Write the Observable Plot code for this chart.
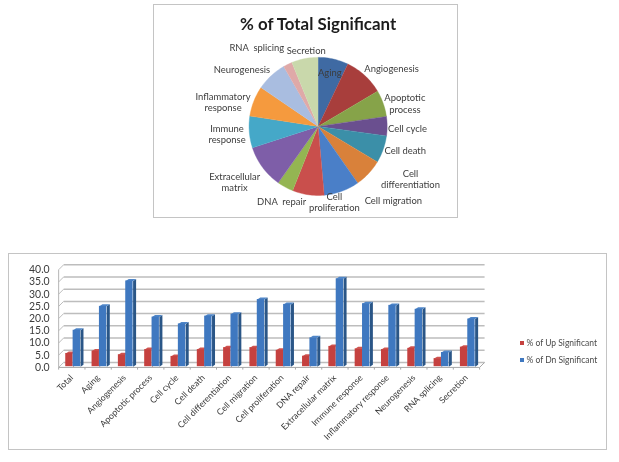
<!DOCTYPE html>
<html><head><meta charset="utf-8">
<script src="https://cdn.jsdelivr.net/npm/d3@7"></script>
<script src="https://cdn.jsdelivr.net/npm/@observablehq/plot@0.6"></script>
<style>
html,body{margin:0;padding:0;background:#fff;width:619px;height:462px;overflow:hidden;font-family:Lato,sans-serif}
#wrap{position:relative;width:619px;height:462px;filter:blur(0.5px)}
.box{position:absolute;box-sizing:border-box;border:1px solid #c4c4c4;background:#fff}
.box svg{position:absolute;left:-1px;top:-1px;overflow:visible;background:transparent}
.leg{position:absolute;font:8.5px Lato,sans-serif;color:#4a4a4a;white-space:nowrap}
.leg i{display:inline-block;width:4.5px;height:4.5px;margin-right:2.5px;vertical-align:1px}
</style></head><body>
<div id="wrap"></div>
<script>
const pieTitle = "% of Total Significant";
const pieNames = ["Aging","Angiogenesis","Apoptotic process","Cell cycle","Cell death","Cell differentiation","Cell migration","Cell proliferation","DNA repair","Extracellular matrix","Immune response","Inflammatory response","Neurogenesis","RNA splicing","Secretion"];
const pieShares = [7.1,9.4,6.2,4.5,6.4,6.7,8.3,7.4,3.8,10.2,7.4,7.1,7.2,2.1,6.2];
const pieColors = ["#3f6aa3","#a83e3c","#86a349","#6a4f8f","#3b8fa8","#d9813a","#4a7fc8","#c94f4c","#94b552","#7e5ea8","#45a8c8","#f59a3e","#a9bde0","#dfa9a8","#c9d8ab"];
const pieLabels = ["Aging","Angiogenesis","Apoptotic\nprocess","Cell cycle","Cell death","Cell\ndifferentiation","Cell migration","Cell\nproliferation","DNA  repair","Extracellular\nmatrix","Immune\nresponse","Inflammatory\nresponse","Neurogenesis","RNA  splicing","Secretion"];
// label placement, px from the pie centre
const labelDX = [11.7,74,87.3,90,87.7,93,75.7,16.3,-36.7,-84,-91.7,-95.7,-76.7,-61.7,-12];
const labelDY = [-54,-58.3,-23,1.7,24,52.7,74.7,76,75,56,7.7,-24.7,-57.3,-79.3,-76.7];

const categories = ["Total","Aging","Angiogenesis","Apoptotic process","Cell cycle","Cell death","Cell differentiation","Cell migration","Cell proliferation","DNA repair","Extracellular matrix","Immune response","Inflammatory response","Neurogenesis","RNA splicing","Secretion"];
const upValues = [5.7,6.7,5.2,7.3,4.5,7.3,8.1,8.1,7.0,4.6,8.6,7.6,7.3,7.8,3.6,8.3];
const dnValues = [15.2,25.0,35.4,20.6,17.8,21.0,21.8,27.8,25.8,12.1,36.3,26.1,25.4,23.8,6.1,19.8];
const yTicks = [0,5,10,15,20,25,30,35,40];
const seriesNames = ["% of Up Significant","% of Dn Significant"];

const wrap = document.getElementById("wrap");
function box(l,t,w,h){const d=document.createElement("div");d.className="box";d.style.cssText=`left:${l}px;top:${t}px;width:${w}px;height:${h}px`;wrap.appendChild(d);return d;}

/* ---------- pie ---------- */
const PW=305,PH=214,CX=165.7,CY=122.7,R=69.5;
let acc=0;const total=d3.sum(pieShares);
const pieRows=[];
pieShares.forEach((s,i)=>{
  const a0=acc/total*2*Math.PI;acc+=s;const a1=acc/total*2*Math.PI;
  pieRows.push({i,px:CX,py:CY});
  const n=Math.max(2,Math.ceil((a1-a0)/0.03));
  for(let k=0;k<=n;k++){const a=a0+(a1-a0)*k/n;pieRows.push({i,px:CX+R*Math.sin(a),py:CY-R*Math.cos(a)});}
});
const pieBox=box(152.5,4,PW,PH);
pieBox.appendChild(Plot.plot({
  width:PW,height:PH,margin:0,
  x:{domain:[0,PW],range:[0,PW],axis:null},
  y:{domain:[0,PH],range:[0,PH],axis:null},
  marks:[
    Plot.line(pieRows,{x:"px",y:"py",z:"i",fill:d=>pieColors[d.i],stroke:d=>pieColors[d.i],strokeWidth:0.4,curve:"linear"}),
    Plot.text([pieTitle],{x:()=>CX,y:()=>20,text:d=>d,fontFamily:"Lato",fontWeight:"bold",fontSize:17,fill:"#1c1c1c"}),
    Plot.text(pieLabels,{x:(d,i)=>CX+labelDX[i],y:(d,i)=>CY+labelDY[i],text:d=>d,fontFamily:"Lato",fontSize:9.5,lineHeight:1.22,fill:"#3c3c3c"})
  ]
}));

/* ---------- bars ---------- */
const BW=599,BH=197,U=26.4,PXY=98/40;
const offX=5/U,offY=5/PXY;            // wall offset in data units
const sideX=3/U,sideY=2/PXY;          // bar depth in data units
const redL=0.27,redR=0.55,bluL=0.55,bluR=0.83;
const faces=[];
const addBar=(i,v,l,r,kind)=>{
  const x1=i+l,x2=i+r,y0=0.3;
  faces.push({k:kind,f:"side",id:`${i}${kind}s`,x:x2,y:y0},{k:kind,f:"side",id:`${i}${kind}s`,x:x2+sideX,y:y0+sideY},{k:kind,f:"side",id:`${i}${kind}s`,x:x2+sideX,y:v+sideY},{k:kind,f:"side",id:`${i}${kind}s`,x:x2,y:v});
  faces.push({k:kind,f:"top",id:`${i}${kind}t`,x:x1,y:v},{k:kind,f:"top",id:`${i}${kind}t`,x:x1+sideX,y:v+sideY},{k:kind,f:"top",id:`${i}${kind}t`,x:x2+sideX,y:v+sideY},{k:kind,f:"top",id:`${i}${kind}t`,x:x2,y:v});
};
categories.forEach((c,i)=>{addBar(i,upValues[i],redL,redR,"up");addBar(i,dnValues[i],bluL,bluR,"dn");});
const faceFill={up:{side:"#8c3432",top:"#cf5450"},dn:{side:"#2a5687",top:"#4f86c8"}};
const idx=d3.range(categories.length);
const grid="#bdbdbd";
const barBox=box(8,253,BW,BH);
barBox.appendChild(Plot.plot({
  width:BW,height:BH,marginLeft:50.3,marginRight:126.3,marginTop:16.3,marginBottom:82.7,
  x:{type:"linear",domain:[0,16],axis:null},
  y:{type:"linear",domain:[0,40],axis:null},
  marks:[
    Plot.link(yTicks,{x1:offX,x2:16+offX,y1:d=>d+offY,y2:d=>d+offY,stroke:grid,strokeWidth:1.5}),
    Plot.link(yTicks,{x1:0,x2:offX,y1:d=>d,y2:d=>d+offY,stroke:grid,strokeWidth:1}),
    Plot.link([0],{x1:0,x2:16,y1:0,y2:0,stroke:"#a8a8a8",strokeWidth:1}),
    Plot.link([0],{x1:16,x2:16+offX,y1:0,y2:offY,stroke:"#a8a8a8",strokeWidth:1}),
    Plot.link([0],{x1:0,x2:0,y1:0,y2:40,stroke:"#b5b5b5",strokeWidth:1}),
    Plot.link(d3.range(17),{x1:d=>d,x2:d=>d,y1:()=>0,y2:()=>-0.9,stroke:"#a8a8a8",strokeWidth:1}),
    Plot.line(faces,{x:"x",y:"y",z:"id",curve:"linear",fill:d=>faceFill[d.k][d.f],stroke:"none"}),
    Plot.rect(idx,{x1:i=>i+redL,x2:i=>i+redR,y1:()=>0.3,y2:i=>upValues[i],fill:"#c5413f"}),
    Plot.rect(idx,{x1:i=>i+bluL,x2:i=>i+bluR,y1:()=>0.3,y2:i=>dnValues[i],fill:"#3f78c0"}),
    Plot.axisY({ticks:yTicks,tickFormat:d=>d.toFixed(1),tickSize:0,tickPadding:9,fontFamily:"Lato",fontSize:10.5,fill:"#3c3c3c",label:null}),
    Plot.axisX({ticks:idx.map(i=>i+0.5),tickFormat:d=>categories[Math.floor(d)],tickRotate:-45,tickSize:0,tickPadding:9,dx:0,fontFamily:"Lato",fontSize:8.8,fill:"#3c3c3c",label:null})
  ]
}));

/* ---------- legend ---------- */
[["#c5413f",seriesNames[0],338],["#3f78c0",seriesNames[1],355]].forEach(([c,t,y])=>{
  const d=document.createElement("div");d.className="leg";d.style.cssText=`left:519.5px;top:${y}px`;
  d.innerHTML=`<i style="background:${c}"></i>${t}`;wrap.appendChild(d);
});
</script>
</body></html>
